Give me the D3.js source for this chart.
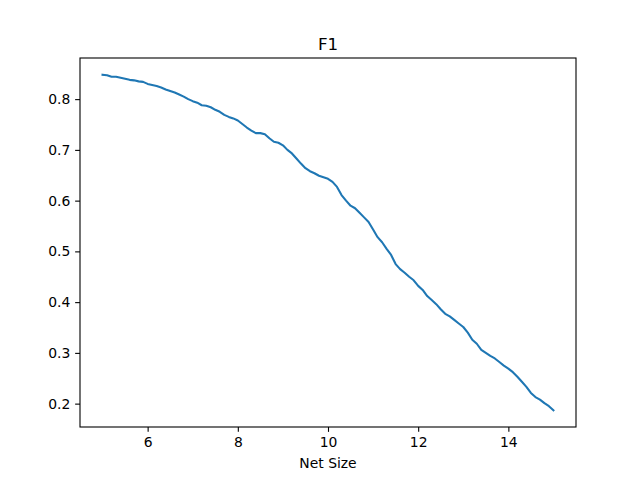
<!DOCTYPE html>
<html>
<head>
<meta charset="utf-8">
<script src="https://cdn.jsdelivr.net/npm/d3@7"></script>
<style>
  html, body { margin: 0; padding: 0; background: #fff; }
  svg { display: block; }
  text { font-family: "DejaVu Sans", sans-serif; fill: #000; }
</style>
</head>
<body>
<svg id="chart" width="640" height="480"></svg>
<script>
const title = "F1";
const xLabel = "Net Size";
const xTicks = [6, 8, 10, 12, 14];
const yTicks = [0.2, 0.3, 0.4, 0.5, 0.6, 0.7, 0.8];
const netSize = [
  5.0, 5.1, 5.2, 5.3, 5.4, 5.5, 5.6, 5.7, 5.8, 5.9,
  6.0, 6.1, 6.2, 6.3, 6.4, 6.5, 6.6, 6.7, 6.8, 6.9,
  7.0, 7.1, 7.2, 7.3, 7.4, 7.5, 7.6, 7.7, 7.8, 7.9,
  8.0, 8.1, 8.2, 8.3, 8.4, 8.5, 8.6, 8.7, 8.8, 8.9,
  9.0, 9.1, 9.2, 9.3, 9.4, 9.5, 9.6, 9.7, 9.8, 9.9,
  10.0, 10.1, 10.2, 10.3, 10.4, 10.5, 10.6, 10.7, 10.8, 10.9,
  11.0, 11.1, 11.2, 11.3, 11.4, 11.5, 11.6, 11.7, 11.8, 11.9,
  12.0, 12.1, 12.2, 12.3, 12.4, 12.5, 12.6, 12.7, 12.8, 12.9,
  13.0, 13.1, 13.2, 13.3, 13.4, 13.5, 13.6, 13.7, 13.8, 13.9,
  14.0, 14.1, 14.2, 14.3, 14.4, 14.5, 14.6, 14.7, 14.8, 14.9,
  15.0
];
const f1 = [
  0.848, 0.847, 0.844, 0.844, 0.842, 0.840, 0.838, 0.837, 0.835, 0.834,
  0.830, 0.828, 0.826, 0.823, 0.819, 0.816, 0.813, 0.809, 0.805, 0.800,
  0.796, 0.793, 0.788, 0.787, 0.784, 0.779, 0.775, 0.769, 0.765, 0.762,
  0.758, 0.751, 0.744, 0.738, 0.733, 0.733, 0.731, 0.723, 0.716, 0.714,
  0.709, 0.700, 0.693, 0.683, 0.673, 0.664, 0.658, 0.654, 0.649, 0.646,
  0.643, 0.637, 0.627, 0.611, 0.600, 0.590, 0.585, 0.576, 0.567, 0.558,
  0.543, 0.528, 0.518, 0.505, 0.493, 0.475, 0.465, 0.458, 0.450, 0.443,
  0.432, 0.424, 0.412, 0.404, 0.396, 0.386, 0.377, 0.372, 0.365, 0.358,
  0.351, 0.340, 0.326, 0.318, 0.306, 0.300, 0.294, 0.289, 0.282, 0.275,
  0.269, 0.262, 0.253, 0.243, 0.233, 0.221, 0.213, 0.208, 0.201, 0.195,
  0.187
];

const margin = { left: 80, right: 64, top: 58, bottom: 53 };
const W = 640, H = 480;
const pw = W - margin.left - margin.right;
const ph = H - margin.top - margin.bottom;

const svg = d3.select("#chart");
const g = svg.append("g").attr("transform", `translate(${margin.left},${margin.top})`);

const xMin = d3.min(netSize), xMax = d3.max(netSize);
const yMin = d3.min(f1), yMax = d3.max(f1);
const xPad = (xMax - xMin) * 0.05, yPad = (yMax - yMin) * 0.05;

const x = d3.scaleLinear().domain([xMin - xPad, xMax + xPad]).range([0, pw]);
const y = d3.scaleLinear().domain([yMin - yPad, yMax + yPad]).range([ph, 0]);

const xAxis = d3.axisBottom(x).tickValues(xTicks).tickSize(4.86).tickPadding(4.86).tickFormat(d3.format("d"));
const yAxis = d3.axisLeft(y).tickValues(yTicks).tickSize(4.86).tickPadding(4.86).tickFormat(d3.format(".1f"));

const gx = g.append("g").attr("transform", `translate(0,${ph})`).call(xAxis);
const gy = g.append("g").call(yAxis);
[gx, gy].forEach(a => {
  a.select(".domain").remove();
  a.selectAll(".tick line").attr("stroke", "#000").attr("stroke-width", 1.1);
  a.selectAll(".tick text").style("font-family", "DejaVu Sans").style("font-size", "13.9px").attr("fill", "#000");
});

const line = d3.line().x((d, i) => x(netSize[i])).y(d => y(d));
g.append("path")
  .datum(f1)
  .attr("fill", "none")
  .attr("stroke", "#1f77b4")
  .attr("stroke-width", 2.08)
  .attr("stroke-linejoin", "round")
  .attr("stroke-linecap", "square")
  .attr("d", line);

g.append("rect")
  .attr("x", 0).attr("y", 0).attr("width", pw).attr("height", ph)
  .attr("fill", "none").attr("stroke", "#000").attr("stroke-width", 1.1);

svg.append("text")
  .attr("x", margin.left + pw / 2).attr("y", margin.top - 8.3)
  .attr("text-anchor", "middle")
  .style("font-size", "16.7px")
  .text(title);

svg.append("text")
  .attr("x", margin.left + pw / 2).attr("y", 468)
  .attr("text-anchor", "middle")
  .style("font-size", "13.9px")
  .text(xLabel);
</script>
</body>
</html>
